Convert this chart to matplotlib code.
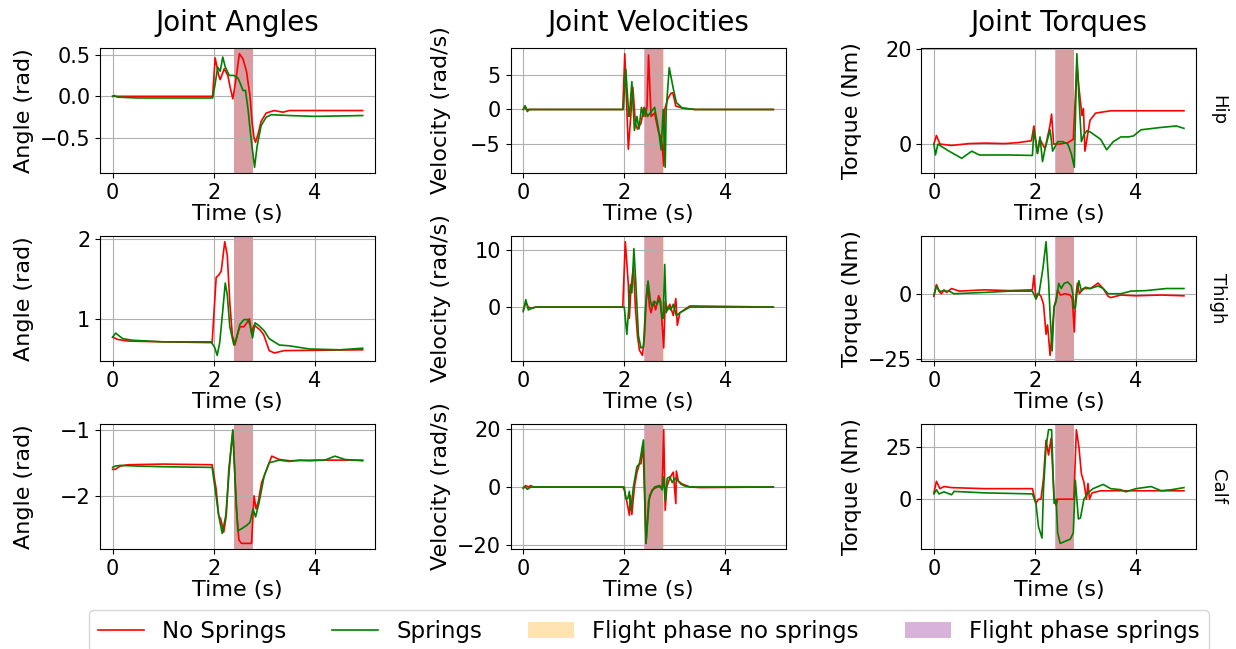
import numpy as np
import matplotlib
matplotlib.use("Agg")
import matplotlib.pyplot as plt
from matplotlib.patches import Patch
from matplotlib.lines import Line2D

# flight phase windows (s)
flight_ns = (2.41, 2.78)
flight_s = (2.40, 2.77)

col_titles = ["Joint Angles", "Joint Velocities", "Joint Torques"]
row_names = ["Hip", "Thigh", "Calf"]
ylabels = ["Angle (rad)", "Velocity (rad/s)", "Torque (Nm)"]

# ---- Hip ----
hip_ang_t_ns = [0, 1.98, 2.03, 2.1, 2.13, 2.21, 2.28, 2.33, 2.38, 2.44, 2.51, 2.58, 2.65, 2.72, 2.76, 2.80, 2.83, 2.88, 2.94, 3.04, 3.2, 3.37, 3.5, 4.0, 4.95]
hip_ang_ns = [0, 0, 0.46, 0.25, 0.2, 0.33, 0.25, 0.1, -0.03, 0.2, 0.51, 0.45, 0.3, 0.0, -0.3, -0.5, -0.55, -0.45, -0.3, -0.2, -0.17, -0.19, -0.17, -0.17, -0.17]
hip_ang_t_s = [0, 0.03, 0.1, 0.5, 1.98, 2.03, 2.08, 2.13, 2.18, 2.23, 2.31, 2.4, 2.48, 2.53, 2.58, 2.63, 2.68, 2.73, 2.76, 2.81, 2.86, 2.94, 3.04, 3.14, 3.5, 4.0, 4.95]
hip_ang_s = [0, 0.01, -0.01, -0.02, -0.02, 0.15, 0.35, 0.3, 0.47, 0.35, 0.25, 0.25, 0.22, 0.15, 0.07, 0.07, -0.15, -0.45, -0.6, -0.85, -0.6, -0.35, -0.25, -0.22, -0.23, -0.24, -0.23]

hip_vel_t_ns = [0, 0.03, 0.06, 1.97, 2.01, 2.08, 2.17, 2.22, 2.26, 2.33, 2.39, 2.42, 2.45, 2.48, 2.53, 2.6, 2.67, 2.72, 2.75, 2.78, 2.80, 2.86, 2.92, 2.96, 3.02, 3.15, 3.4, 4.95]
hip_vel_ns = [0, 0.5, 0, 0, 8.0, -5.7, 3.2, -2.0, -2.8, -2.0, 0.3, -1.0, 0.5, 7.8, -1.0, -0.5, -3.0, -4.0, -5.0, -8.1, 0, 1.5, 2.3, 2.4, 0.5, 0.2, 0, 0]
hip_vel_t_s = [0, 0.04, 0.08, 0.12, 1.98, 2.03, 2.09, 2.11, 2.15, 2.2, 2.25, 2.29, 2.34, 2.38, 2.41, 2.46, 2.6, 2.67, 2.73, 2.77, 2.81, 2.83, 2.89, 2.97, 3.03, 3.15, 3.4, 4.95]
hip_vel_s = [0, 0.5, -0.3, 0, 0, 5.8, -1.0, 0, 4.0, -3.0, -1.0, -2.8, 0.3, -1.0, 0.2, -1.0, 0.3, -2.5, -5.8, 0, -8.3, 0, 6.0, 3.0, 1.0, 0.2, 0, 0]

hip_tq_t_ns = [0, 0.05, 0.12, 0.35, 0.7, 1.0, 1.4, 1.67, 1.93, 1.98, 2.05, 2.1, 2.2, 2.3, 2.33, 2.37, 2.5, 2.65, 2.76, 2.80, 2.83, 2.87, 2.93, 2.96, 2.99, 3.09, 3.2, 3.5, 4.0, 4.5, 4.95]
hip_tq_ns = [0, 1.8, 0, -0.3, 0.1, 0.2, 0.1, 0.3, 0.7, 3.8, -1.9, 1.0, -1.0, 4.0, 6.3, 0, 0, 0.3, 1.0, 10, 17, 12, 6, 7.5, -1.5, 5, 6.5, 7, 7, 7, 7]
hip_tq_t_s = [0, 0.03, 0.08, 0.15, 0.3, 0.55, 0.75, 0.9, 1.5, 1.95, 1.98, 2.05, 2.1, 2.15, 2.2, 2.3, 2.35, 2.45, 2.55, 2.65, 2.72, 2.78, 2.83, 2.87, 2.92, 2.97, 3.03, 3.1, 3.3, 3.42, 3.55, 3.7, 3.85, 3.95, 4.1, 4.5, 4.8, 4.95]
hip_tq_s = [0, -2.3, 0, -0.5, -1.5, -3.0, -1.5, -2.3, -2.3, -2.4, 3.0, -2.0, 1.5, -3.7, -1.0, 3.0, -1.5, 0.5, 0.5, 0, -2.0, -4.9, 19, 10, 0.5, 2.0, 2.8, 2.5, 1.0, -1.2, 0.5, 1.5, 1.5, 1.7, 3.0, 3.5, 3.8, 3.3]

# ---- Thigh ----
thigh_ang_t_ns = [0, 0.1, 0.3, 1.0, 1.97, 2.05, 2.1, 2.15, 2.22, 2.27, 2.32, 2.37, 2.42, 2.47, 2.52, 2.6, 2.68, 2.71, 2.75, 2.8, 2.92, 2.99, 3.1, 3.2, 3.4, 4.95]
thigh_ang_ns = [0.77, 0.74, 0.72, 0.71, 0.70, 1.52, 1.55, 1.6, 1.97, 1.8, 1.2, 0.8, 0.67, 0.8, 0.9, 0.9, 0.97, 1.0, 0.82, 0.92, 0.86, 0.8, 0.6, 0.57, 0.6, 0.61]
thigh_ang_t_s = [0, 0.06, 0.2, 0.4, 1.0, 1.95, 2.02, 2.07, 2.12, 2.18, 2.23, 2.27, 2.32, 2.4, 2.45, 2.52, 2.6, 2.68, 2.72, 2.77, 2.82, 2.92, 3.0, 3.1, 3.3, 3.5, 3.9, 4.5, 4.95]
thigh_ang_s = [0.77, 0.82, 0.75, 0.73, 0.71, 0.71, 0.64, 0.54, 0.7, 1.1, 1.45, 1.3, 0.9, 0.67, 0.75, 0.93, 0.99, 0.99, 0.92, 0.76, 0.95, 0.9, 0.85, 0.75, 0.67, 0.66, 0.62, 0.61, 0.63]

thigh_vel_t_ns = [0, 0.05, 0.1, 0.15, 0.25, 1.97, 2.02, 2.08, 2.1, 2.13, 2.18, 2.22, 2.26, 2.3, 2.36, 2.4, 2.44, 2.46, 2.5, 2.53, 2.58, 2.62, 2.68, 2.72, 2.78, 2.81, 2.86, 2.9, 2.97, 3.02, 3.05, 3.1, 3.3, 4.95]
thigh_vel_ns = [-0.5, 0.8, 0, -0.2, 0, 0, 11.5, 4, -2, 3, 7, 0, -5, -7.6, -8.5, -5, 2, 4, 0, -1, 1, -0.5, 2, 1, -7.2, 1, -0.5, 0.5, -1.5, 1.5, -3.2, -1, 0.2, 0]
thigh_vel_t_s = [0, 0.05, 0.1, 0.15, 0.25, 2.0, 2.05, 2.09, 2.12, 2.15, 2.19, 2.23, 2.28, 2.33, 2.38, 2.42, 2.47, 2.52, 2.55, 2.6, 2.65, 2.7, 2.75, 2.77, 2.8, 2.83, 2.87, 2.92, 2.97, 3.03, 3.1, 3.2, 3.3, 4.95]
thigh_vel_s = [-0.8, 1.3, -0.5, -0.3, 0, 0, -4.8, 0, 4, 2.5, 10.3, 4, -5, -7.2, -7, 0, 4.6, 1, 0, 1, 0.5, 1.5, -2, -2, 7.5, -1, 0, -0.5, 0.5, -1.5, -1, -0.5, 0, 0]

thigh_tq_t_ns = [0, 0.05, 0.12, 0.15, 0.2, 0.25, 0.35, 0.5, 1.0, 1.5, 1.95, 1.98, 2.02, 2.07, 2.12, 2.17, 2.22, 2.25, 2.3, 2.34, 2.38, 2.42, 2.45, 2.5, 2.6, 2.7, 2.74, 2.78, 2.8, 2.84, 2.88, 2.95, 3.1, 3.25, 3.35, 3.45, 3.5, 3.7, 4.0, 4.5, 4.95]
thigh_tq_ns = [-1, 3.5, 0.5, 0, 1.5, 0.5, 2, 1, 1.5, 1.2, 1.5, 7, -2, 0, -1, -4, -15.6, -12, -23.7, -15, -5, -2, 1.5, -0.5, 0, -0.5, -2, -14.7, -3, 4, 0, 2, 2, 4.1, 2, -1, -1.5, -0.5, -0.8, -0.5, -0.8]
thigh_tq_t_s = [0, 0.05, 0.1, 0.3, 0.4, 1.0, 1.5, 1.95, 2.02, 2.05, 2.08, 2.16, 2.22, 2.27, 2.3, 2.34, 2.38, 2.42, 2.47, 2.52, 2.58, 2.65, 2.72, 2.75, 2.77, 2.8, 2.83, 2.87, 2.92, 3.0, 3.1, 3.25, 3.35, 3.45, 3.7, 3.9, 4.2, 4.6, 4.95]
thigh_tq_s = [-0.5, 3, 1, 1, 0, 0.5, 1, 1, -2, 0, 0, 10, 20, 5, -8, -22, -5, -3, 4, 2, 4, 4.5, 3, 0, -5.5, -5.5, 0, 5, 1, 2.5, 2, 3, 2, 0, 0, 1, 1.2, 2, 2]

# ---- Calf ----
calf_ang_t_ns = [0, 0.05, 0.15, 0.3, 1.0, 1.97, 2.05, 2.1, 2.14, 2.2, 2.25, 2.3, 2.38, 2.45, 2.5, 2.55, 2.75, 2.8, 2.84, 2.88, 2.95, 3.05, 3.15, 3.3, 3.5, 4.0, 4.95]
calf_ang_ns = [-1.6, -1.6, -1.55, -1.53, -1.52, -1.53, -1.9, -2.3, -2.35, -2.55, -2.3, -1.6, -1.02, -2.2, -2.67, -2.72, -2.72, -2.0, -2.2, -2.1, -1.8, -1.6, -1.4, -1.45, -1.47, -1.46, -1.46]
calf_ang_t_s = [0, 0.05, 0.15, 0.5, 1.0, 1.97, 2.03, 2.1, 2.17, 2.24, 2.32, 2.38, 2.44, 2.48, 2.55, 2.65, 2.72, 2.78, 2.83, 2.9, 3.0, 3.1, 3.3, 3.5, 3.7, 3.9, 4.2, 4.4, 4.6, 4.95]
calf_ang_s = [-1.57, -1.55, -1.54, -1.55, -1.56, -1.57, -1.9, -2.3, -2.57, -2.3, -1.5, -1.0, -2.0, -2.53, -2.5, -2.45, -2.4, -2.2, -2.32, -2.1, -1.7, -1.5, -1.46, -1.48, -1.46, -1.47, -1.46, -1.4, -1.45, -1.47]

calf_vel_t_ns = [0, 0.05, 0.1, 0.15, 0.2, 1.97, 2.0, 2.05, 2.1, 2.12, 2.15, 2.2, 2.25, 2.3, 2.33, 2.37, 2.43, 2.48, 2.55, 2.65, 2.75, 2.78, 2.81, 2.84, 2.88, 2.93, 2.97, 3.02, 3.03, 3.07, 3.15, 3.3, 3.5, 4.95]
calf_vel_ns = [-0.5, 0.5, 0, 0.5, 0, 0, -1, -5, -9.7, -3, -9.5, 0, 5, 8, 8, 15, -19.4, -5, -1, 0, 0, 19.7, -8, 0, 2, 4, 5.1, -5.7, 5.5, 2, 1, 0, -0.2, 0]
calf_vel_t_s = [0, 0.03, 0.08, 0.15, 2.0, 2.03, 2.07, 2.1, 2.13, 2.18, 2.25, 2.3, 2.38, 2.43, 2.5, 2.6, 2.7, 2.75, 2.78, 2.81, 2.85, 2.9, 2.95, 3.0, 3.05, 3.12, 3.2, 3.3, 4.95]
calf_vel_s = [-0.3, 0.2, -0.8, 0, 0, -4, -4, -1.5, -8, 0, 7, 8, 16.2, -19.4, -3, 0, 0.5, -1, 3.5, -4.8, 3, 3.5, 1.5, 3, 2.5, 1, 0.3, 0, 0]

calf_tq_t_ns = [0, 0.05, 0.12, 0.2, 0.35, 1.0, 1.95, 2.02, 2.07, 2.12, 2.17, 2.22, 2.27, 2.32, 2.38, 2.42, 2.45, 2.55, 2.7, 2.77, 2.82, 2.87, 2.92, 2.97, 3.02, 3.05, 3.08, 3.13, 3.3, 4.95]
calf_tq_ns = [3, 8.5, 5, 6, 5.5, 5, 5, -2, 0, 0, 10, 28, 21, 29, 0, -3, 0, 0, 0, 0, 33, 25, 12, 8, 0, 7.5, 0, 3, 4, 4]
calf_tq_t_s = [0, 0.05, 0.1, 0.2, 0.35, 0.4, 1.0, 1.95, 2.02, 2.07, 2.14, 2.17, 2.22, 2.27, 2.33, 2.38, 2.42, 2.45, 2.5, 2.6, 2.7, 2.76, 2.8, 2.86, 2.9, 2.97, 3.05, 3.15, 3.25, 3.35, 3.5, 3.7, 3.8, 4.0, 4.3, 4.5, 4.7, 4.95]
calf_tq_s = [2.5, 4.5, 2.5, 3.5, 2.1, 3.7, 3, 2.5, -2, -13, -18.5, 5, 25, 33, 33, -2, 0, -16, -21, -20, -19, -16, 9, -9.4, -9, 0, 3, 5, 6, 7, 5, 4.5, 3.5, 5, 6, 4, 4.5, 5.5]

yticks = [
    [[-0.5, 0, 0.5], [-5, 0, 5], [0, 20]],
    [[1, 2], [0, 10], [-25, 0]],
    [[-2, -1], [-20, 0, 20], [0, 25]],
]

panels = [
    [(hip_ang_t_ns, hip_ang_ns, hip_ang_t_s, hip_ang_s),
     (hip_vel_t_ns, hip_vel_ns, hip_vel_t_s, hip_vel_s),
     (hip_tq_t_ns, hip_tq_ns, hip_tq_t_s, hip_tq_s)],
    [(thigh_ang_t_ns, thigh_ang_ns, thigh_ang_t_s, thigh_ang_s),
     (thigh_vel_t_ns, thigh_vel_ns, thigh_vel_t_s, thigh_vel_s),
     (thigh_tq_t_ns, thigh_tq_ns, thigh_tq_t_s, thigh_tq_s)],
    [(calf_ang_t_ns, calf_ang_ns, calf_ang_t_s, calf_ang_s),
     (calf_vel_t_ns, calf_vel_ns, calf_vel_t_s, calf_vel_s),
     (calf_tq_t_ns, calf_tq_ns, calf_tq_t_s, calf_tq_s)],
]

fig, axes = plt.subplots(3, 3, figsize=(12.36, 6.49), dpi=100)
fig.subplots_adjust(left=0.081, right=0.968, top=0.926, bottom=0.154, wspace=0.493, hspace=0.504)

for i in range(3):
    for j in range(3):
        ax = axes[i, j]
        t_ns, y_ns, t_s, y_s = panels[i][j]
        ax.plot(t_ns, y_ns, color="red", lw=1.2)
        ax.plot(t_s, y_s, color="green", lw=1.2)
        ax.axvspan(*flight_ns, color="orange", alpha=0.3, lw=0)
        ax.axvspan(*flight_s, color="purple", alpha=0.3, lw=0)
        ax.set_xticks([0, 2, 4])
        ax.set_yticks(yticks[i][j])
        ax.tick_params(labelsize=15)
        ax.set_xlabel("Time (s)", fontsize=16, labelpad=1)
        ax.set_ylabel(ylabels[j], fontsize=16)
        ax.grid(True)
        if i == 0:
            ax.set_title(col_titles[j], fontsize=20, pad=12)
        if j == 2:
            ax.text(1.08, 0.5, row_names[i], transform=ax.transAxes, rotation=-90,
                    va="center", ha="center", fontsize=13)

fig.align_ylabels(axes)

handles = [
    Line2D([0], [0], color="red", lw=1.2, label="No Springs"),
    Line2D([0], [0], color="green", lw=1.2, label="Springs"),
    Patch(facecolor="orange", alpha=0.3, label="Flight phase no springs"),
    Patch(facecolor="purple", alpha=0.3, label="Flight phase springs"),
]
fig.legend(handles=handles, loc="lower center", bbox_to_anchor=(0.525, -0.022), ncol=4, fontsize=16.5)

fig.savefig("out.png", dpi=100)
